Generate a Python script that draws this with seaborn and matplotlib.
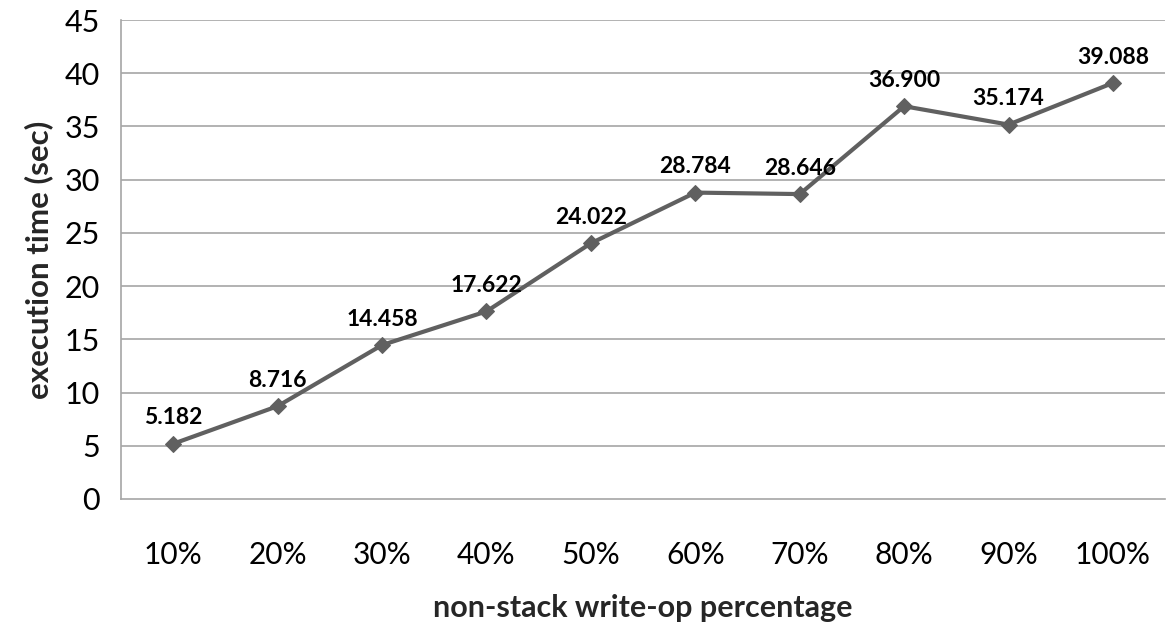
import matplotlib
matplotlib.use("Agg")
import matplotlib.pyplot as plt
import seaborn as sns
import pandas as pd

categories = ["10%", "20%", "30%", "40%", "50%", "60%", "70%", "80%", "90%", "100%"]
exec_time = [5.182, 8.716, 14.458, 17.622, 24.022, 28.784, 28.646, 36.900, 35.174, 39.088]
y_ticks = [0, 5, 10, 15, 20, 25, 30, 35, 40, 45]

sns.set_theme(style="white")
plt.rcParams["font.family"] = ["Lato", "DejaVu Sans"]

df = pd.DataFrame({"pos": range(len(categories)), "time": exec_time})

fig = plt.figure(figsize=(11.68, 6.26), dpi=100)
ax = fig.add_axes([0.1036, 0.203, 0.894, 0.765])

grid_c = "#a6a6a6"
for yv in y_ticks[1:]:
    ax.axhline(yv, color=grid_c, lw=1.2, zorder=0)

sns.lineplot(data=df, x="pos", y="time", ax=ax, color="#606060", lw=3,
             marker="D", markersize=8, markeredgecolor="#606060", zorder=3)

for x, v in zip(df["pos"], df["time"]):
    ax.annotate(f"{v:.3f}", (x, v), xytext=(0, 11), textcoords="offset points",
                ha="center", va="bottom", fontsize=16.5, fontweight="bold", color="black")

ax.set_xlim(-0.5, len(categories) - 0.5)
ax.set_ylim(0, 45)
ax.set_yticks(y_ticks)
ax.set_yticklabels([str(t) for t in y_ticks], fontsize=22)
ax.set_xticks([i - 0.5 for i in range(len(categories) + 1)])
ax.set_xticklabels([])
ax.set_xticks(range(len(categories)), minor=True)
ax.set_xticklabels(categories, minor=True, fontsize=21.5)
ax.tick_params(axis="x", which="major", direction="out", length=9, width=1.2, color=grid_c)
ax.tick_params(axis="x", which="minor", length=0, pad=30, labelcolor="black")
ax.tick_params(axis="y", direction="out", length=9, width=1.2, color=grid_c,
               pad=6, labelcolor="black")

for side in ["top", "right"]:
    ax.spines[side].set_visible(False)
for side in ["left", "bottom"]:
    ax.spines[side].set_color(grid_c)
    ax.spines[side].set_linewidth(1.2)

ax.set_xlabel("non-stack write-op percentage", fontsize=22, fontweight="bold", labelpad=18)
ax.set_ylabel("execution time (sec)", fontsize=22.5, fontweight="bold", labelpad=8)

fig.savefig("out.png", dpi=100, facecolor="white")
